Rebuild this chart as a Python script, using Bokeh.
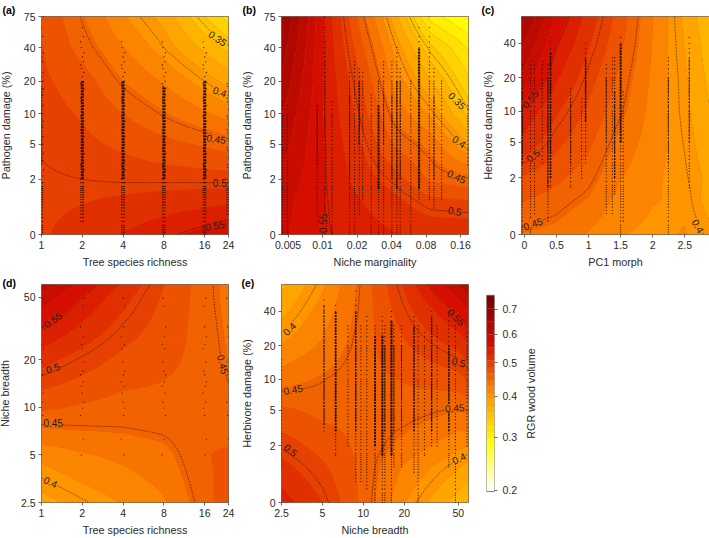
import numpy as np
from bokeh.plotting import figure
from bokeh.models import FixedTicker, Range1d, Title
from bokeh.layouts import row, column
from bokeh.core.properties import value
from bokeh.embed import file_html
from bokeh.resources import INLINE

FONT = "Liberation Sans"
INK = "#2b2b2b"

# ---------- axes ----------
RICH_TICKS = [1, 2, 4, 8, 16, 24]
MARG_TICKS = [0.005, 0.01, 0.02, 0.04, 0.08, 0.16]
MARG_LABELS = ["0.005", "0.01", "0.02", "0.04", "0.08", "0.16"]
PC1_TICKS = [0, 0.5, 1, 1.5, 2, 2.5]
PC1_LABELS = ["0", "0.5", "1", "1.5", "2", "2.5"]
BREADTH_TICKS = [2.5, 5, 10, 20, 50]
PATH_TICKS = [0, 2, 5, 10, 20, 40, 75]
HERB_TICKS = [0, 2, 5, 10, 20, 40]

# ---------- surfaces (RGR wood volume at grid nodes) ----------
A_X = [1, 2, 4, 8, 16, 24]
A_Y = [0, 2, 5, 10, 20, 40, 75]
A_Z = [[.505, .515, .530, .545, .560, .570],
       [.502, .500, .498, .497, .496, .495],
       [.4985, .491, .482, .472, .463, .457],
       [.494, .484, .466, .448, .430, .419],
       [.490, .476, .446, .425, .400, .385],
       [.487, .458, .428, .400, .370, .352],
       [.484, .448, .410, .385, .342, .320]]

B_X = [.00438, .0101, .0209, .0431, .0879, .1878]
B_Y = [0, 1, 2, 5, 10, 20, 40, 75]
B_Z = [[.580, .553, .540, .530, .525, .525],
       [.585, .553, .530, .512, .490, .485],
       [.595, .553, .520, .495, .462, .452],
       [.610, .553, .510, .463, .440, .390],
       [.625, .552, .500, .440, .405, .352],
       [.645, .552, .490, .420, .375, .330],
       [.665, .552, .475, .402, .345, .310],
       [.685, .552, .460, .380, .305, .280]]

C_X = [-.047, .5, 1, 1.5, 2, 2.5, 2.886]
C_Y = [0, 1, 2, 5, 10, 20, 40, 68]
C_Z = [[.445, .440, .425, .410, .405, .410, .397],
       [.468, .458, .445, .420, .410, .406, .383],
       [.485, .470, .455, .428, .412, .402, .387],
       [.525, .492, .470, .440, .417, .399, .380],
       [.548, .510, .482, .452, .420, .396, .375],
       [.595, .532, .495, .460, .423, .394, .370],
       [.630, .553, .510, .470, .426, .390, .365],
       [.660, .570, .520, .476, .428, .387, .360]]

D_X = [1, 2, 4, 8, 16, 24]
D_Y = [2.5, 5, 7.5, 10, 20, 50, 60]
D_Z = [[.385, .398, .410, .425, .458, .478],
       [.414, .425, .432, .440, .465, .468],
       [.447, .449, .450, .454, .463, .460],
       [.470, .463, .458, .460, .462, .455],
       [.515, .497, .480, .470, .460, .4455],
       [.590, .550, .515, .483, .456, .440],
       [.615, .565, .525, .487, .455, .441]]

E_X = [2.5, 5, 10, 20, 50, 59.4]
E_Y = [0, 1, 2, 5, 10, 20, 40, 68]
E_Z = [[.540, .507, .460, .410, .365, .355],
       [.515, .490, .460, .425, .393, .385],
       [.497, .478, .460, .440, .413, .410],
       [.470, .460, .460, .458, .447, .450],
       [.437, .449, .460, .467, .478, .490],
       [.410, .430, .458, .483, .513, .525],
       [.385, .417, .455, .498, .553, .575],
       [.370, .405, .454, .510, .600, .625]]

# ---------- observations: recorded damage levels and the columns of trees ----------
DAMAGE_LEVELS = [0, .05, .1, .15, .2, .3, .4, .5, .6, .7, .8, .9, 1, 1.1, 1.2, 1.3, 1.4, 1.5, 1.6, 1.8,
                 2, 2.2, 2.4, 2.6, 2.8, 3, 3.3, 3.6, 4, 4.3, 4.6, 5, 5.5, 6, 6.5, 7, 7.5, 8, 8.5, 9,
                 9.5, 10, 11, 12, 13, 14, 15, 16, 17, 18, 19, 20, 22, 24, 26, 28, 30, 33, 36, 40, 45, 50, 60, 75]
JITTER = [.975, 1.02, 1.0, 1.03, .985]
NO_JITTER = [1.0]

# x, lowest, highest, dark core low, dark core high, core width
A_COLS = [(1, 0, 75, 3, 18, 1.5), (2, .3, 60, 2, 20, 3), (4, 0, 45, 2, 20, 3),
          (8, 0, 45, 2, 18, 3), (16, 0, 45, 2, 20, 3), (24, .5, 20, 0, 0, 0)]
B_COLS = [(.00446, 0, 13, 0, 0, 0), (.00493, 0, 12, 0, 0, 0), (.00899, .2, 13, 3, 12, .8),
          (.0105, 0, 75, 0, 0, 0), (.0121, 0, 13, 0, 0, 0), (.0172, 0, 25, 2, 15, 1),
          (.019, 0, 30, 0, 0, 0), (.0209, .5, 26, 5, 20, 1.5), (.0224, 1, 25, 0, 0, 0),
          (.0266, 0, 15, 0, 0, 0), (.0308, 0, 20, 1.5, 12, 2), (.0341, 0, 30, 5, 15, 1),
          (.0403, 0, 30, 2, 15, 1), (.0445, 0, 40, 1.5, 20, 1.5), (.0476, 0, 26, 2, 20, 1),
          (.0589, 0, 20, 0, 0, 0), (.0695, 1, 60, 1.5, 40, 2.2), (.0855, 1, 75, 0, 0, 0),
          (.0938, .7, 26, 2, 15, 1), (.1094, 1, 20, 0, 0, 0), (.185, 3, 12, 0, 0, 0)]
C_COLS = [(-.036, 0, 26, 3, 15, 1.2), (.094, 0, 28, 0, 0, 0), (.156, .5, 26, 0, 0, 0),
          (.276, 3, 28, 0, 0, 0), (.365, .3, 26, 1.5, 20, 1.2), (.406, 1.5, 45, 2, 33, 1.5),
          (.72, 1.5, 16, 3, 13, .8), (.89, 2, 13, 0, 0, 0), (.953, 3, 40, 8, 30, 1.5),
          (1.276, .5, 26, 5, 20, .8), (1.37, .5, 30, 0, 0, 0), (1.406, 1.2, 30, 2, 15, 1.2),
          (1.5, 0, 45, 5, 40, 2), (1.54, .3, 15, 0, 0, 0), (2.245, 0, 30, 3, 20, .8),
          (2.57, 1.5, 45, 5, 30, .8)]
D_BREADTH = [5.0, 6.3, 8.9, 9.9, 10.8, 12.3, 13.6, 14.5, 16.1, 17, 19.4, 23.5, 25, 28, 32.4, 43.8, 49]
D_RICH = [1, 2, 4, 8, 16, 24]
D_JITTER = [1.0, .985, 1.02, .97, 1.01, 1.03]
E_COLS = [(2.5, 1, 15, 0, 0, 0), (5.14, 3, 50, 3.5, 45, 1), (6.26, 1.5, 45, 3, 40, 1.8),
          (7.7, 2, 30, 0, 0, 0), (8.8, .5, 60, 3, 40, 1.4), (9.6, .5, 30, 0, 0, 0),
          (10.6, .3, 36, 0, 0, 0), (12.2, 0, 30, 2, 25, 1.8), (13.8, 0, 36, 1.5, 25, 2.2),
          (14.4, 0, 30, 3, 20, 1), (16.1, 0, 40, 1.5, 33, 2.2), (16.8, 1, 30, 3, 20, .8),
          (19.1, 1, 30, 3, 20, .8), (23.6, .8, 36, 3, 30, 1.4), (25.3, 0, 30, 0, 0, 0),
          (28.2, 1.5, 26, 0, 0, 0), (31.8, 2, 40, 3, 36, 1.4), (34.9, 2, 30, 0, 0, 0),
          (42.6, 1, 40, 3, 20, 1.4), (47.6, 0, 40, 0, 0, 0), (58, 2, 26, 0, 0, 0)]

# ---------- contour labels: x, y, text, angle ----------
A_LABELS = [(20, 48.4, "0.35", -35), (20.7, 16.1, "0.4", -20), (19.5, 5.7, "0.45", -8),
            (20.7, 1.77, "0.5", 0), (19, .2, "0.55", 10)]
B_LABELS = [(.15, 13.3, "0.35", -45), (.156, 5.35, "0.4", -35), (.148, 2.17, "0.45", -25),
            (.143, .6, "0.5", -10), (.0101, .25, "0.55", 90)]
C_LABELS = [(.083, 12.9, "0.55", 50), (.13, 3.64, "0.5", 40), (.13, .237, "0.45", 20), (2.71, .18, "0.4", -60)]
D_LABELS = [(1.21, 36, "0.55", 35), (1.21, 17.8, "0.5", 20), (1.22, 8, "0.45", 0),
            (1.17, 3.38, "0.4", -25), (21.9, 18.7, "0.45", -75)]
E_LABELS = [(2.85, 28.2, "0.4", 45), (3.04, 8, "0.45", 10), (2.93, 1.77, "0.5", -40),
            (48.4, 35.6, "0.55", -45), (50.4, 14.3, "0.5", -15), (47, 5.3, "0.45", 3), (50.4, 1.36, "0.4", 25)]

CONTOUR_LEVELS = [.35, .4, .45, .5, .55]
BAR_TICKS = [.2, .3, .4, .5, .6, .7]
BAR_TOP = .7635

# ---------- colour scale ----------
ANCHORS = [(255, 255, 255), (255, 255, 0), (255, 142, 0), (214, 14, 0), (118, 0, 0)]
N_BANDS = 30


def to_t(v):
    return np.log((np.asarray(v) + .1) / .3) / np.log((BAR_TOP + .1) / .3)


def from_t(t):
    return .3 * np.exp(np.asarray(t) * np.log((BAR_TOP + .1) / .3)) - .1


def colour(t):
    t = float(np.clip(t, 0, 1)) * (len(ANCHORS) - 1)
    i = min(int(t), len(ANCHORS) - 2)
    f = t - i
    c = [round(ANCHORS[i][k] * (1 - f) + ANCHORS[i + 1][k] * f) for k in range(3)]
    return "#%02x%02x%02x" % tuple(c)


EDGES_T = np.linspace(0, 1, N_BANDS + 1)
EDGES = from_t(EDGES_T)
BANDS = [colour((EDGES_T[i] + EDGES_T[i + 1]) / 2) for i in range(N_BANDS)]


def fine_axis(t, n=10):
    return np.concatenate([np.linspace(t[i], t[i + 1], n, endpoint=False) for i in range(len(t) - 1)] + [[t[-1]]])


def smooth_surface(xg, yg, z, xlog, ylog):
    tx = np.log(xg) if xlog else np.array(xg, float)
    ty = np.log(yg)
    fx, fy = fine_axis(tx), fine_axis(ty)
    z = np.array(z, float)
    zx = np.array([np.interp(fx, tx, r) for r in z])
    zz = np.array([np.interp(fy, ty, zx[:, j]) for j in range(zx.shape[1])]).T
    return (np.exp(fx) if xlog else fx), np.exp(fy), zz


def style_axis(ax, ticks, labels=None):
    ax.ticker = FixedTicker(ticks=list(ticks))
    if labels is not None:
        ax.major_label_overrides = dict(zip(ticks, labels))
    ax.axis_line_color = None
    ax.major_tick_line_color = "#444444"
    ax.major_tick_line_width = .8
    ax.major_tick_in = 0
    ax.major_tick_out = 3
    ax.minor_tick_line_color = None
    ax.major_label_text_font = FONT
    ax.major_label_text_font_size = "10.5px"
    ax.major_label_text_color = INK
    ax.major_label_standoff = 3
    ax.axis_label_text_font = FONT
    ax.axis_label_text_font_size = "10.8px"
    ax.axis_label_text_font_style = "normal"
    ax.axis_label_text_color = INK


def panel(letter, lx, lstand, W, H, left, top, bottom, right, xg, yg, z, xlog, y_off, xticks, xlabels, yticks,
          ylabels, xtitle, ytitle, xstand, ystand):
    yplot = [v + y_off for v in yg]
    p = figure(width=W, height=H, min_border_left=left, min_border_right=right, min_border_top=top,
               min_border_bottom=bottom, x_axis_type="log" if xlog else "linear", y_axis_type="log",
               x_range=Range1d(xg[0], xg[-1]), y_range=Range1d(yplot[0], yplot[-1]),
               toolbar_location=None, output_backend="svg", background_fill_color="#e85000",
               title=Title(text=letter, align="left", offset=lx, standoff=lstand, text_font=FONT,
                           text_font_size="10.5px", text_font_style="bold", text_color="black"))
    p.grid.visible = False
    p.outline_line_color = "#555555"
    p.outline_line_width = .8
    style_axis(p.xaxis[0], xticks, xlabels)
    style_axis(p.yaxis[0], [v + y_off for v in yticks], ylabels)
    p.xaxis[0].axis_label = xtitle
    p.yaxis[0].axis_label = ytitle
    p.xaxis[0].axis_label_standoff = xstand
    p.yaxis[0].axis_label_standoff = ystand

    fx, fy, fz = smooth_surface(xg, yplot, z, xlog, True)
    p.contour(fx, fy, fz, levels=list(EDGES), fill_color=BANDS, line_color=None)
    p.contour(fx, fy, fz, levels=CONTOUR_LEVELS, fill_color=None, line_color="black", line_width=.6,
              line_dash="2 1", line_alpha=.75)
    return p


def add_columns(p, cols, y_off, jitter, wide_below=0):
    xs, ys, sx, sl, sh, sw = [], [], [], [], [], []
    for (x, lo, hi, cl, ch, w) in cols:
        for i, lev in enumerate(DAMAGE_LEVELS):
            if lo <= lev <= hi:
                if lev < wide_below:
                    for j in jitter[:3]:
                        xs.append(x * j)
                        ys.append(lev + y_off)
                else:
                    xs.append(x * jitter[i % len(jitter)])
                    ys.append(lev + y_off)
        if w > 0:
            sx.append(x)
            sl.append(cl + y_off)
            sh.append(ch + y_off)
            sw.append(w)
    p.segment(x0=sx, y0=sl, x1=sx, y1=sh, line_color="black", line_width=sw, line_dash="2 1", line_alpha=.85)
    p.scatter(x=xs, y=ys, size=1.3, color="black", line_color=None, alpha=.8)


def add_labels(p, labels, y_off):
    xs = [l[0] for l in labels]
    ys = [l[1] + y_off for l in labels]
    vals = [float(l[2]) for l in labels]
    bg = [colour(to_t(v)) for v in vals]
    p.text(x=xs, y=ys, text=[l[2] for l in labels], angle=[l[3] for l in labels], angle_units="deg",
           text_font=value(FONT), text_font_size=value("10px"), text_color="#1a1a1a", text_align="center",
           text_baseline="middle", background_fill_color=bg)


X_RICH = "Tree species richness"
PATH = "Pathogen damage (%)"
HERB = "Herbivore damage (%)"
pa = panel("(a)", -39, 2, 242, 270, 47, 14, 36, 8, A_X, A_Y, A_Z, True, 1, RICH_TICKS, [str(v) for v in RICH_TICKS],
           PATH_TICKS, [str(v) for v in PATH_TICKS], X_RICH, PATH, 4, 9)
add_columns(pa, A_COLS, 1, JITTER, wide_below=2)
add_labels(pa, A_LABELS, 1)
pb = panel("(b)", -39, 2, 240, 270, 45, 14, 36, 8, B_X, B_Y, B_Z, True, 1, MARG_TICKS, MARG_LABELS,
           PATH_TICKS, [str(v) for v in PATH_TICKS], "Niche marginality", PATH, 4, 8)
add_columns(pb, B_COLS, 1, NO_JITTER)
add_labels(pb, B_LABELS, 1)
pc = panel("(c)", -40, 2, 233, 270, 45, 14, 36, 0, C_X, C_Y, C_Z, False, 1, PC1_TICKS, PC1_LABELS,
           HERB_TICKS, [str(v) for v in HERB_TICKS], "PC1 morph", HERB, 4, 7)
add_columns(pc, C_COLS, 1, NO_JITTER)
add_labels(pc, C_LABELS, 1)
pd_ = panel("(d)", -39, -8, 242, 268, 47, 14, 34, 8, D_X, D_Y, D_Z, True, 0, RICH_TICKS, [str(v) for v in RICH_TICKS],
            BREADTH_TICKS, [str(v) for v in BREADTH_TICKS], X_RICH, "Niche breadth", 4, 7)
dots_x = [r * D_JITTER[(i + j) % len(D_JITTER)] for j, r in enumerate(D_RICH) for i, b in enumerate(D_BREADTH)]
dots_y = [b for r in D_RICH for b in D_BREADTH]
pd_.scatter(x=dots_x, y=dots_y, size=1.3, color="black", line_color=None, alpha=.7)
add_labels(pd_, D_LABELS, 0)
pe = panel("(e)", -40, -8, 240, 268, 45, 14, 34, 8, E_X, E_Y, E_Z, True, 1, BREADTH_TICKS, [str(v) for v in BREADTH_TICKS],
           HERB_TICKS, [str(v) for v in HERB_TICKS], "Niche breadth", HERB, 4, 8)
add_columns(pe, E_COLS, 1, NO_JITTER)
add_labels(pe, E_LABELS, 1)

# colour bar: frame kept level with its row, the bar itself inset through the range
bar = figure(width=44, height=268, min_border_left=10, min_border_right=26, min_border_top=14, min_border_bottom=34,
             x_range=Range1d(0, 1), y_range=Range1d(.2809, .9161), y_axis_type="log", y_axis_location="right",
             toolbar_location=None, output_backend="svg", background_fill_color=None, border_fill_color=None)
bar.grid.visible = False
bar.xaxis.visible = False
bar.outline_line_color = None
style_axis(bar.yaxis[0], [v + .1 for v in BAR_TICKS], [str(v) for v in BAR_TICKS])
bar.yaxis[0].major_label_standoff = 5
bar.quad(left=0, right=1, bottom=list(EDGES[:-1] + .1), top=list(EDGES[1:] + .1), fill_color=BANDS, line_color=BANDS, line_width=.3)
bar.quad(left=[0], right=[1], bottom=[.298], top=[BAR_TOP + .1], fill_color=None, line_color="#555555", line_width=.8)

# the bar's title, reading upward, sits on the left axis of an otherwise empty strip
bar_title = figure(width=40, height=268, min_border_left=16, min_border_right=14, min_border_top=14, min_border_bottom=34,
                   x_range=Range1d(0, 1), y_range=Range1d(0, 1), toolbar_location=None, output_backend="svg",
                   background_fill_color=None, border_fill_color=None)
bar_title.grid.visible = False
bar_title.xaxis.visible = False
bar_title.outline_line_color = None
style_axis(bar_title.yaxis[0], [])
bar_title.yaxis[0].major_tick_line_color = None
bar_title.yaxis[0].major_tick_out = 0
bar_title.yaxis[0].major_label_standoff = 0
bar_title.yaxis[0].axis_label = "RGR wood volume"
bar_title.yaxis[0].axis_label_standoff = 0
bar_title.line(x=[0, 1], y=[0, 0], line_alpha=0)

page = column(row(pa, pb, pc), row(pd_, pe, bar, bar_title), styles={"position": "absolute", "left": "-6px", "top": "0px"})
open("out.html", "w").write(file_html(page, INLINE))
